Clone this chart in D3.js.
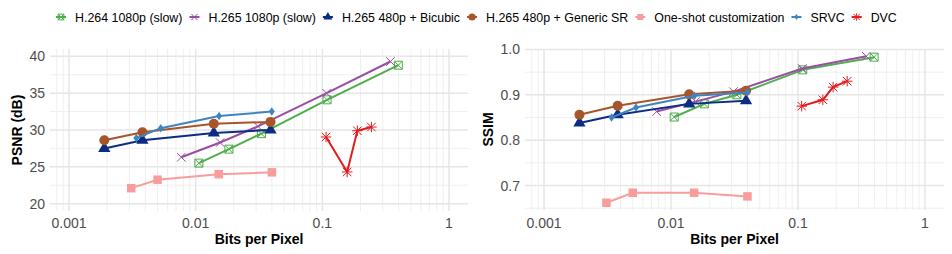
<!DOCTYPE html>
<html>
<head>
<meta charset="utf-8">
<script src="https://cdn.jsdelivr.net/npm/d3@7"></script>
<style>
  body { margin: 0; background: #fff; }
  text { font-family: "Liberation Sans", Arial, sans-serif; }
  .tick-label { font-size: 14px; fill: #4d4d4d; }
  .axis-title { font-size: 14px; font-weight: bold; fill: #000; }
  .legend-label { font-size: 12.4px; fill: #000; }
</style>
</head>
<body>
<div id="chart"></div>
<script>
// Series names, in legend order
const seriesNames = ["H.264 1080p (slow)", "H.265 1080p (slow)", "H.265 480p + Bicubic",
    "H.265 480p + Generic SR", "One-shot customization", "SRVC", "DVC"];
const seriesColors = ["#4daf4a", "#984ea3", "#0c2c84", "#a65628", "#f89c9c", "#3d85c0", "#e41a1c"];
const seriesShapes = ["squarecross", "cross", "triangle", "circle", "square", "diamond", "asterisk"];

// Bits per pixel for each series
const bppH264 = [0.0106, 0.0183, 0.033, 0.109, 0.398];
const bppH265 = [0.0077, 0.0156, 0.031, 0.108, 0.345];
const bppBicubic = [0.0019, 0.0038, 0.0139, 0.039];
const bppGenericSR = [0.0019, 0.0038, 0.0139, 0.039];
const bppOneShot = [0.0031, 0.005, 0.0152, 0.04];
const bppSRVC = [0.0034, 0.0053, 0.0153, 0.0399];
const bppDVC = [0.107, 0.157, 0.189, 0.244];

// PSNR (dB)
const psnrH264 = [25.5, 27.4, 29.5, 34.1, 38.8];
const psnrH265 = [26.3, 28.3, 30.5, 35.0, 39.3];
const psnrBicubic = [27.5, 28.6, 29.6, 30.0];
const psnrGenericSR = [28.6, 29.7, 30.85, 31.1];
const psnrOneShot = [22.1, 23.25, 24.0, 24.25];
const psnrSRVC = [28.9, 30.25, 31.9, 32.5];
const psnrDVC = [29.05, 24.3, 29.9, 30.4];

// SSIM
const ssimH264 = [0.851, 0.880, 0.900, 0.955, 0.983];
const ssimH265 = [0.863, 0.885, 0.907, 0.958, 0.985];
const ssimBicubic = [0.838, 0.856, 0.880, 0.887];
const ssimGenericSR = [0.856, 0.876, 0.901, 0.909];
const ssimOneShot = [0.662, 0.684, 0.684, 0.676];
const ssimSRVC = [0.850, 0.872, 0.898, 0.905];
const ssimDVC = [0.875, 0.889, 0.917, 0.930];

// Tick labels
const xTicks = [0.001, 0.01, 0.1, 1];
const xTickLabels = ["0.001", "0.01", "0.1", "1"];
const psnrTicks = [20, 25, 30, 35, 40];
const psnrMinor = [22.5, 27.5, 32.5, 37.5];
const ssimTicks = [0.7, 0.8, 0.9, 1.0];
const ssimMinor = [0.65, 0.75, 0.85, 0.95];

const bppAll = [bppH264, bppH265, bppBicubic, bppGenericSR, bppOneShot, bppSRVC, bppDVC];
const psnrAll = [psnrH264, psnrH265, psnrBicubic, psnrGenericSR, psnrOneShot, psnrSRVC, psnrDVC];
const ssimAll = [ssimH264, ssimH265, ssimBicubic, ssimGenericSR, ssimOneShot, ssimSRVC, ssimDVC];

const width = 952, height = 254;

const svg = d3.select("#chart").append("svg")
    .attr("width", width)
    .attr("height", height);

// Marker path generator
const markerPath = (shape, s) => {
    switch (shape) {
        case "circle": return d3.symbol(d3.symbolCircle, Math.PI * s * s)();
        case "square": return d3.symbol(d3.symbolSquare, (2 * s * 0.85) ** 2)();
        case "triangle": return d3.symbol(d3.symbolTriangle, s * s * 2.6)();
        case "diamond": {
            const r = s * 0.85;
            return `M0,${-r}L${r * 0.7},0L0,${r}L${-r * 0.7},0Z`;
        }
        case "cross": {
            const r = s * 0.85;
            return `M${-r},${-r}L${r},${r}M${-r},${r}L${r},${-r}`;
        }
        case "squarecross": {
            const r = s * 0.8;
            return `M${-r},${-r}H${r}V${r}H${-r}Z M${-r},${-r}L${r},${r}M${-r},${r}L${r},${-r}`;
        }
        case "asterisk": {
            const r = s * 0.85, q = s * 1.05;
            return `M${-r},${-r}L${r},${r}M${-r},${r}L${r},${-r}M0,${-q}V${q}M${-q},0H${q}`;
        }
    }
};
const isStroked = shape => ["cross", "squarecross", "asterisk"].includes(shape);

const drawPanel = (opts) => {
    const { x0, x1, y0, y1, yDomain, yTicks, yMinor, yFormat, yValues, yTitle, yTitleX } = opts;

    const xScale = d3.scaleLog().domain([10 ** -3.15, 10 ** 0.15]).range([x0, x1]);
    const yScale = d3.scaleLinear().domain(yDomain).range([y1, y0]);

    const g = svg.append("g");

    // Minor grid (x: 2..9 per decade)
    const xMinor = [];
    for (let e = -4; e <= 0; e++) {
        for (let k = 2; k <= 9; k++) {
            const v = k * 10 ** e;
            if (v >= xScale.domain()[0] && v <= xScale.domain()[1]) xMinor.push(v);
        }
    }
    g.selectAll(".xminor").data(xMinor).join("line")
        .attr("x1", d => xScale(d)).attr("x2", d => xScale(d))
        .attr("y1", y0).attr("y2", y1)
        .attr("stroke", "#ebebeb").attr("stroke-width", 0.8);
    g.selectAll(".yminor").data(yMinor).join("line")
        .attr("x1", x0).attr("x2", x1)
        .attr("y1", d => yScale(d)).attr("y2", d => yScale(d))
        .attr("stroke", "#ebebeb").attr("stroke-width", 0.8);

    // Major grid
    g.selectAll(".xmajor").data(xTicks).join("line")
        .attr("x1", d => xScale(d)).attr("x2", d => xScale(d))
        .attr("y1", y0).attr("y2", y1)
        .attr("stroke", "#e6e6e6").attr("stroke-width", 1.5);
    g.selectAll(".ymajor").data(yTicks).join("line")
        .attr("x1", x0).attr("x2", x1)
        .attr("y1", d => yScale(d)).attr("y2", d => yScale(d))
        .attr("stroke", "#e6e6e6").attr("stroke-width", 1.5);

    // Tick labels
    g.selectAll(".xlab").data(xTicks).join("text")
        .attr("class", "tick-label")
        .attr("x", d => xScale(d)).attr("y", 228)
        .attr("text-anchor", "middle")
        .text((d, i) => xTickLabels[i]);
    g.selectAll(".ylab").data(yTicks).join("text")
        .attr("class", "tick-label")
        .attr("x", x0 - 5).attr("y", d => yScale(d) + 5)
        .attr("text-anchor", "end")
        .text(yFormat);

    // Axis titles
    g.append("text").attr("class", "axis-title")
        .attr("x", (x0 + x1) / 2).attr("y", 244)
        .attr("text-anchor", "middle")
        .text("Bits per Pixel");
    g.append("text").attr("class", "axis-title")
        .attr("transform", `translate(${yTitleX},${(y0 + y1) / 2}) rotate(-90)`)
        .attr("text-anchor", "middle")
        .text(yTitle);

    // Series lines + markers
    const line = d3.line().x(d => xScale(d[0])).y(d => yScale(d[1]));
    seriesNames.forEach((name, i) => {
        const pts = bppAll[i].map((b, j) => [b, yValues[i][j]]);
        g.append("path")
            .attr("d", line(pts))
            .attr("fill", "none")
            .attr("stroke", seriesColors[i])
            .attr("stroke-width", 2);
        const shape = seriesShapes[i];
        g.selectAll(null).data(pts).join("path")
            .attr("transform", d => `translate(${xScale(d[0])},${yScale(d[1])})`)
            .attr("d", markerPath(shape, 5))
            .attr("fill", isStroked(shape) ? "none" : seriesColors[i])
            .attr("stroke", isStroked(shape) ? seriesColors[i] : "none")
            .attr("stroke-width", 1);
    });
};

drawPanel({
    x0: 50, x1: 468, y0: 49, y1: 211,
    yDomain: [19, 41], yTicks: psnrTicks, yMinor: psnrMinor,
    yFormat: d => d3.format("d")(d), yValues: psnrAll,
    yTitle: "PSNR (dB)", yTitleX: 22
});

drawPanel({
    x0: 525, x1: 944, y0: 49, y1: 210,
    yDomain: [0.646, 1.001], yTicks: ssimTicks, yMinor: ssimMinor,
    yFormat: d => d3.format(".1f")(d), yValues: ssimAll,
    yTitle: "SSIM", yTitleX: 493
});

/*********************/
/* Legend            */
/*********************/
const legend = svg.append("g");
let cursor = 0;
seriesNames.forEach((name, i) => {
    const item = legend.append("g");
    item.append("line")
        .attr("x1", -5).attr("x2", 5).attr("y1", 0).attr("y2", 0)
        .attr("stroke", seriesColors[i]).attr("stroke-width", 2);
    const shape = seriesShapes[i];
    item.append("path")
        .attr("d", markerPath(shape, 3.6))
        .attr("fill", isStroked(shape) ? "none" : seriesColors[i])
        .attr("stroke", isStroked(shape) ? seriesColors[i] : "none")
        .attr("stroke-width", 1);
    const t = item.append("text")
        .attr("class", "legend-label")
        .attr("x", 14).attr("y", 4.5)
        .text(name);
    const w = t.node().getComputedTextLength();
    item.attr("transform", `translate(${cursor},0)`);
    cursor += 14 + w + 12;
});
// First marker center sits at x = 61 in the reference
legend.attr("transform", `translate(61,17)`);
</script>
</body>
</html>
